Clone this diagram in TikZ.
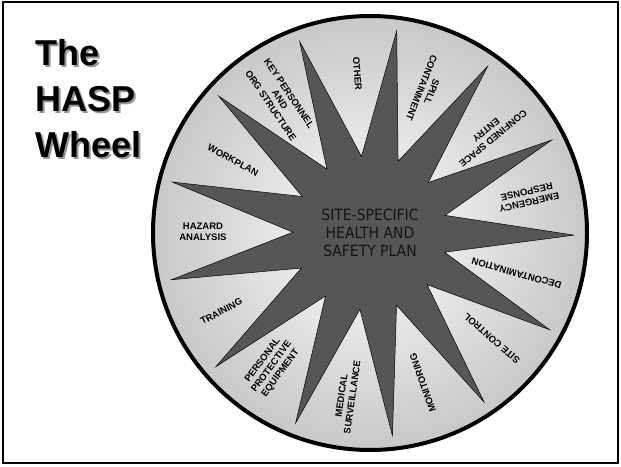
\documentclass[tikz,border=0pt]{standalone}
\usepackage{fontspec}
\setmainfont{Liberation Sans}
\newfontfamily\planfont{DejaVu Sans Condensed}
\definecolor{StarGray}{RGB}{86, 86, 86}
\definecolor{RimGray}{RGB}{150, 150, 150}
\definecolor{PlanInk}{RGB}{20, 20, 20}
\definecolor{ShadowGray}{RGB}{150, 150, 150}
\usepackage{tikz}
\usetikzlibrary{positioning,calc}
\pgfdeclareradialshading{wheelglow}{\pgfpoint{0bp}{0bp}}{color(0bp)=(white); color(18bp)=(black!16); color(50bp)=(RimGray)}

\begin{document}
\begin{tikzpicture}[x=1pt, y=1pt,
    spoketext/.style={font=\fontsize{9.5}{11}\selectfont\bfseries, align=center, inner sep=0pt, text=black},
    titletext/.style={font=\fontsize{36}{46}\selectfont\bfseries, align=left, anchor=north west, inner sep=0pt}]
  \useasboundingbox (0,0) rectangle (621,466);
  \draw[line width=2pt] (3,3) rectangle (618,464);
  % title
  \node[titletext, text=ShadowGray] (titleshadow) at (37.5,424.5) {The\\HASP\\Wheel};
  \node[titletext] (title) at (35,427) {The\\HASP\\Wheel};
  % wheel
  \coordinate (hub) at (370,233);
  \shade[shading=wheelglow] (hub) circle (217);
  \begin{scope}[shift={(hub)}]
    \draw[fill=StarGray, line width=0.5pt] (-0.6:204)
      \foreach \k in {0,...,12} { -- ({13.246+27.692*\k}:77) -- ({27.092+27.692*\k}:204) } -- cycle;
    \foreach \ang/\rad/\txt [count=\k] in {
        12.8/162/{EMERGENCY\\RESPONSE}, 39.5/155/{CONFINED SPACE\\ENTRY},
        68.4/154/{SPILL\\CONTAINMENT}, 94.5/160/{OTHER},
        124/161/{KEY PERSONNEL\\AND\\ORG STRUCTURE}, 152/155/{WORKPLAN},
        179.7/167/{HAZARD\\ANALYSIS}, 207.8/168/{TRAINING},
        233.7/166/{PERSONAL\\PROTECTIVE\\EQUIPMENT}, 261.9/165/{MEDICAL\\SURVEILLANCE},
        289.4/159/{MONITORING}, 319.1/161/{SITE CONTROL},
        344.6/152/{DECONTAMINATION}} {
      \node[spoketext, rotate=\ang+180] (spoke\k) at (\ang:\rad) {\txt};
    }
  \end{scope}
  \draw[line width=4pt] (hub) circle (217);
  \node[font=\planfont\fontsize{15.5}{18.3}\selectfont, text=PlanInk, align=center] (plan) at (hub) {SITE-SPECIFIC\\HEALTH AND\\SAFETY PLAN};
\end{tikzpicture}
\end{document}
